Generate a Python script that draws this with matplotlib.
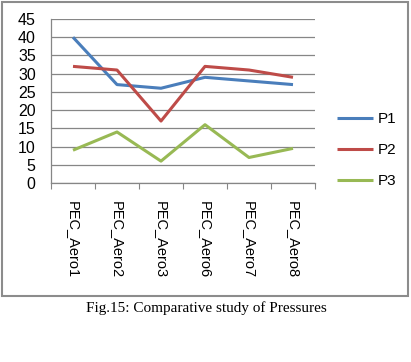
import matplotlib.pyplot as plt
from matplotlib.patches import Rectangle

categories = ["PEC_Aero1", "PEC_Aero2", "PEC_Aero3", "PEC_Aero6", "PEC_Aero7", "PEC_Aero8"]
p1 = [40, 27, 26, 29, 28, 27]
p2 = [32, 31, 17, 32, 31, 29]
p3 = [9, 14, 6, 16, 7, 9.5]
series_names = ["P1", "P2", "P3"]
colors = ["#4A7EBB", "#BE4B48", "#98B954"]

plt.rcParams['font.family'] = ['Liberation Sans', 'DejaVu Sans']

fig = plt.figure(figsize=(4.11, 3.62), dpi=100)

#? Outer chart border
fig.patches.append(Rectangle((2 / 411, 1 - 296 / 362), 406 / 411, 294 / 362,
                             transform=fig.transFigure, fill=False,
                             edgecolor="#8c8c8c", linewidth=1.5))

ax = fig.add_axes([51 / 411, 1 - 183 / 362, 264 / 411, 164 / 362])
x = list(range(len(categories)))
for ys, name, c in zip([p1, p2, p3], series_names, colors):
    ax.plot(x, ys, color=c, linewidth=2.2, label=name, solid_capstyle="butt")

ax.set_xlim(-0.5, len(categories) - 0.5)
ax.set_ylim(0, 45)
ax.set_yticks(range(0, 46, 5))
ax.yaxis.grid(True, color="#868686", linewidth=0.9)
ax.set_axisbelow(True)
ax.set_xticks([i - 0.5 for i in range(len(categories) + 1)], minor=False)
ax.set_xticklabels([])
ax.set_xticks(x, minor=True)
ax.set_xticklabels(categories, minor=True, rotation=270, fontsize=10.5)
ax.tick_params(axis="x", which="major", length=4, color="#868686", direction="out")
ax.tick_params(axis="x", which="minor", length=0, pad=13)
ax.tick_params(axis="y", length=0, labelsize=11.5, pad=11)
for s in ["top", "right"]:
    ax.spines[s].set_visible(False)
for s in ["left", "bottom"]:
    ax.spines[s].set_color("#868686")
    ax.spines[s].set_linewidth(0.9)

ax.legend(loc="center left", bbox_to_anchor=(1.03, 0.2), frameon=False,
          fontsize=11, handlelength=2.4, labelspacing=1.1, handletextpad=0.3)

fig.text(206 / 411, 1 - 308 / 362, "Fig.15: Comparative study of Pressures",
         ha="center", va="center", fontsize=11, family="Liberation Serif")

fig.savefig("out.png", dpi=100)
